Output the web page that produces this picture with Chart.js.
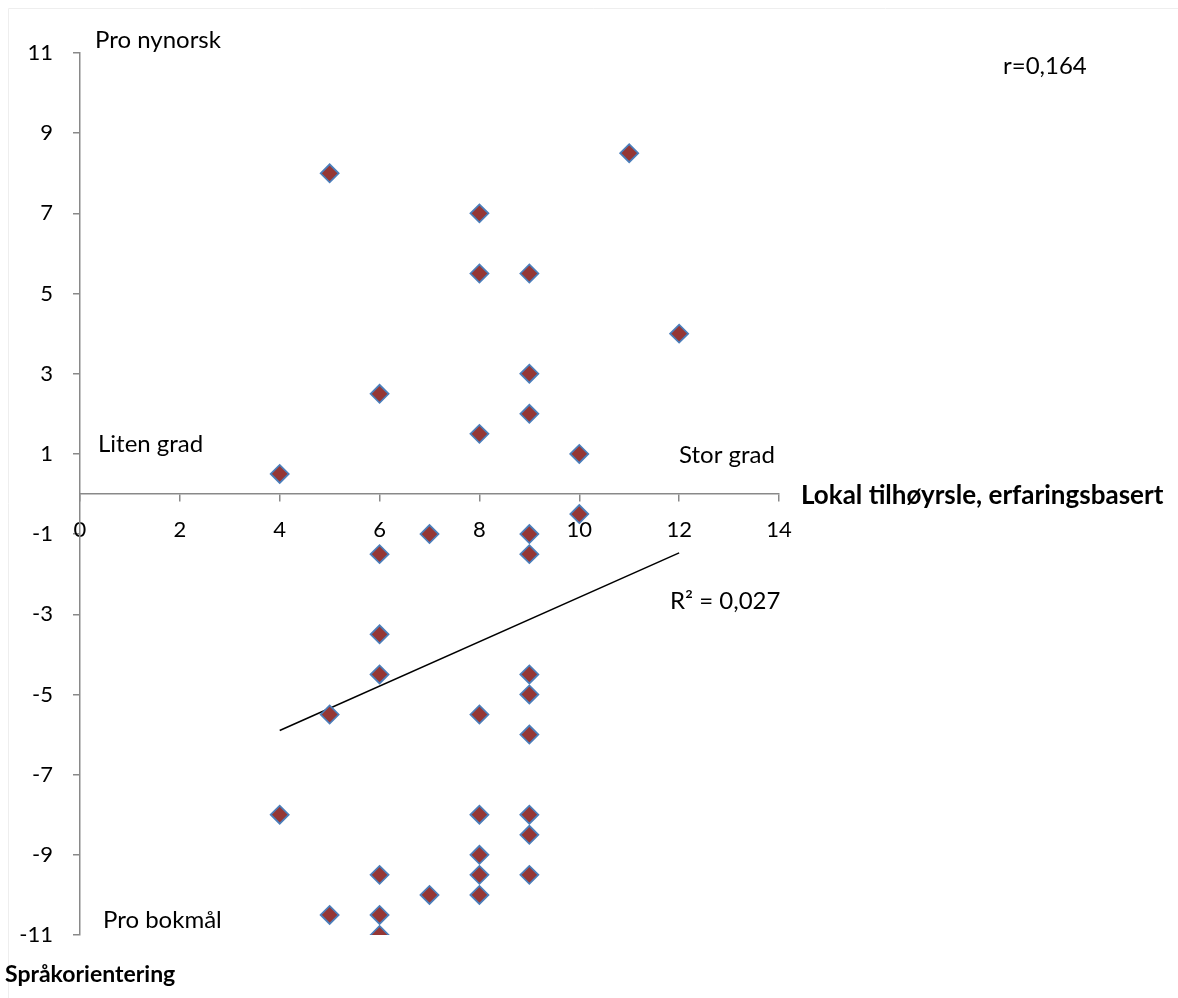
<!DOCTYPE html>
<html>
<head>
<meta charset="utf-8">
<script src="https://cdn.jsdelivr.net/npm/chart.js@4"></script>
<style>
  html, body { margin: 0; padding: 0; background: #ffffff; }
  #wrap { width: 1178px; height: 998px; position: relative; }
</style>
</head>
<body>
<div id="wrap"><canvas id="c" width="1178" height="998"></canvas></div>
<script>
// ---- data ----
const xValues = [5, 11, 8, 8, 9, 12, 9, 6, 9, 8, 10, 4,
                 10, 7, 9, 6, 9,
                 6, 6, 9, 9, 5, 8, 9,
                 4, 8, 9, 9, 8, 6, 8, 9, 7, 8, 5, 6, 6];
const yValues = [8, 8.5, 7, 5.5, 5.5, 4, 3, 2.5, 2, 1.5, 1, 0.5,
                 -0.5, -1, -1, -1.5, -1.5,
                 -3.5, -4.5, -4.5, -5, -5.5, -5.5, -6,
                 -8, -8, -8, -8.5, -9, -9.5, -9.5, -9.5, -10, -10, -10.5, -10.5, -11];
const trendX = [4, 12];
const trendY = [-5.9, -1.47];
const xTicks = [0, 2, 4, 6, 8, 10, 12, 14];
const yTicks = [-11, -9, -7, -5, -3, -1, 1, 3, 5, 7, 9, 11];
const xTitle = 'Lokal tilhøyrsle, erfaringsbasert';
const yTitle = 'Språkorientering';
const notes = ['Pro nynorsk', 'Pro bokmål', 'Liten grad', 'Stor grad', 'r=0,164', 'R² = 0,027'];

const FONT = 'Lato, "Open Sans", sans-serif';
const AXIS = '#898989';

const points = xValues.map((x, i) => ({ x: x, y: yValues[i] }));
const trend = trendX.map((x, i) => ({ x: x, y: trendY[i] }));

const textPlugin = {
  id: 'texts',
  beforeDraw(chart) {
    const ctx = chart.ctx;
    ctx.save();
    ctx.strokeStyle = '#eeeeee';
    ctx.lineWidth = 1;
    ctx.beginPath();
    ctx.moveTo(8.5, 998); ctx.lineTo(8.5, 8.5); ctx.lineTo(1178, 8.5);
    ctx.stroke();
    ctx.restore();
  },
  afterDraw(chart) {
    const ctx = chart.ctx;
    ctx.save();
    ctx.fillStyle = '#000000';
    ctx.textBaseline = 'middle';
    ctx.textAlign = 'left';
    ctx.font = '24px ' + FONT;
    ctx.fillText(notes[0], 95, 40);
    ctx.fillText(notes[1], 103, 920);
    ctx.fillText(notes[2], 98, 444);
    ctx.fillText(notes[3], 679, 455);
    ctx.fillText(notes[4], 1003, 66);
    ctx.fillText(notes[5], 670, 601);
    ctx.font = 'bold 26px ' + FONT;
    ctx.fillText(xTitle, 801, 496);
    ctx.font = 'bold 23px ' + FONT;
    ctx.fillText(yTitle, 5, 975);
    ctx.restore();
  }
};

new Chart(document.getElementById('c'), {
  type: 'scatter',
  data: {
    datasets: [
      {
        label: 'data',
        data: points,
        pointStyle: 'rectRot',
        pointRadius: 9,
        pointHoverRadius: 9,
        backgroundColor: '#953735',
        borderColor: '#4a7ebb',
        pointBorderWidth: 1.75,
        order: 0
      },
      {
        label: 'trend',
        type: 'line',
        data: trend,
        borderColor: '#000000',
        borderWidth: 1.5,
        pointRadius: 0,
        fill: false,
        order: 1
      }
    ]
  },
  plugins: [textPlugin],
  options: {
    responsive: false,
    animation: false,
    events: [],
    layout: { padding: { left: 8, top: 53, right: 399, bottom: 63 } },
    plugins: { legend: { display: false }, tooltip: { enabled: false } },
    scales: {
      x: {
        type: 'linear',
        position: { y: 0 },
        min: 0, max: 14,
        afterBuildTicks: s => { s.ticks = xTicks.map(v => ({ value: v })); },
        afterFit: s => { s.height = 0; },
        grid: { drawOnChartArea: false, drawTicks: true, tickLength: 7, color: AXIS, lineWidth: 1.5 },
        border: { display: true, color: AXIS, width: 1.5 },
        ticks: { padding: 16, color: '#000000', font: { family: FONT, size: 22 }, maxRotation: 0, autoSkip: false }
      },
      y: {
        type: 'linear',
        position: 'left',
        min: -11, max: 11,
        afterBuildTicks: s => { s.ticks = yTicks.map(v => ({ value: v })); },
        afterFit: s => { s.width = 72; },
        grid: { drawOnChartArea: false, drawTicks: true, tickLength: 7, color: AXIS, lineWidth: 1.5 },
        border: { display: true, color: AXIS, width: 1.5 },
        ticks: { padding: 20, crossAlign: 'near', color: '#000000', font: { family: FONT, size: 22 }, autoSkip: false }
      }
    }
  }
});
</script>
</body>
</html>
